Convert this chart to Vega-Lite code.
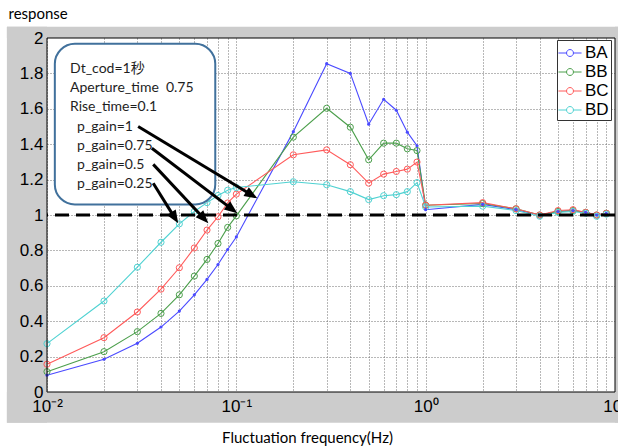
{
"$schema": "https://vega.github.io/schema/vega-lite/v6.json",
"width": 568, "height": 354,
"autosize": {"type": "none"},
"padding": {"left": 47, "top": 38, "right": 3, "bottom": 56},
"background": "white",
"config": {"view": {"stroke": null, "fill": "white"}},
"datasets": {"pts": [
{"f":0.01,"s":"BA","r":0.095},{"f":0.02,"s":"BA","r":0.185},{"f":0.03,"s":"BA","r":0.275},{"f":0.04,"s":"BA","r":0.367},{"f":0.05,"s":"BA","r":0.457},{"f":0.06,"s":"BA","r":0.549},{"f":0.07,"s":"BA","r":0.636},{"f":0.08,"s":"BA","r":0.72},{"f":0.09,"s":"BA","r":0.805},{"f":0.1,"s":"BA","r":0.876},{"f":0.2,"s":"BA","r":1.471},{"f":0.3,"s":"BA","r":1.855},{"f":0.4,"s":"BA","r":1.80},{"f":0.5,"s":"BA","r":1.513},{"f":0.6,"s":"BA","r":1.654},{"f":0.7,"s":"BA","r":1.592},{"f":0.8,"s":"BA","r":1.468},{"f":0.9,"s":"BA","r":1.391},{"f":1,"s":"BA","r":1.03},{"f":2,"s":"BA","r":1.06},{"f":3,"s":"BA","r":1.03},{"f":4,"s":"BA","r":1.0},{"f":5,"s":"BA","r":1.02},{"f":6,"s":"BA","r":1.025},{"f":7,"s":"BA","r":1.015},{"f":8,"s":"BA","r":1.0},{"f":9,"s":"BA","r":1.01},
{"f":0.01,"s":"BB","r":0.115},{"f":0.02,"s":"BB","r":0.228},{"f":0.03,"s":"BB","r":0.341},{"f":0.04,"s":"BB","r":0.444},{"f":0.05,"s":"BB","r":0.549},{"f":0.06,"s":"BB","r":0.655},{"f":0.07,"s":"BB","r":0.749},{"f":0.08,"s":"BB","r":0.839},{"f":0.09,"s":"BB","r":0.93},{"f":0.1,"s":"BB","r":0.995},{"f":0.2,"s":"BB","r":1.44},{"f":0.3,"s":"BB","r":1.603},{"f":0.4,"s":"BB","r":1.496},{"f":0.5,"s":"BB","r":1.312},{"f":0.6,"s":"BB","r":1.406},{"f":0.7,"s":"BB","r":1.406},{"f":0.8,"s":"BB","r":1.374},{"f":0.9,"s":"BB","r":1.364},{"f":1,"s":"BB","r":1.055},{"f":2,"s":"BB","r":1.065},{"f":3,"s":"BB","r":1.035},{"f":4,"s":"BB","r":1.0},{"f":5,"s":"BB","r":1.02},{"f":6,"s":"BB","r":1.025},{"f":7,"s":"BB","r":1.015},{"f":8,"s":"BB","r":1.0},{"f":9,"s":"BB","r":1.01},
{"f":0.01,"s":"BC","r":0.157},{"f":0.02,"s":"BC","r":0.307},{"f":0.03,"s":"BC","r":0.452},{"f":0.04,"s":"BC","r":0.581},{"f":0.05,"s":"BC","r":0.702},{"f":0.06,"s":"BC","r":0.814},{"f":0.07,"s":"BC","r":0.915},{"f":0.08,"s":"BC","r":0.99},{"f":0.09,"s":"BC","r":1.068},{"f":0.1,"s":"BC","r":1.118},{"f":0.2,"s":"BC","r":1.34},{"f":0.3,"s":"BC","r":1.368},{"f":0.4,"s":"BC","r":1.284},{"f":0.5,"s":"BC","r":1.18},{"f":0.6,"s":"BC","r":1.231},{"f":0.7,"s":"BC","r":1.246},{"f":0.8,"s":"BC","r":1.259},{"f":0.9,"s":"BC","r":1.299},{"f":1,"s":"BC","r":1.055},{"f":2,"s":"BC","r":1.07},{"f":3,"s":"BC","r":1.035},{"f":4,"s":"BC","r":1.0},{"f":5,"s":"BC","r":1.025},{"f":6,"s":"BC","r":1.03},{"f":7,"s":"BC","r":1.015},{"f":8,"s":"BC","r":1.0},{"f":9,"s":"BC","r":1.01},
{"f":0.01,"s":"BD","r":0.273},{"f":0.02,"s":"BD","r":0.514},{"f":0.03,"s":"BD","r":0.705},{"f":0.04,"s":"BD","r":0.846},{"f":0.05,"s":"BD","r":0.95},{"f":0.06,"s":"BD","r":1.02},{"f":0.07,"s":"BD","r":1.07},{"f":0.08,"s":"BD","r":1.11},{"f":0.09,"s":"BD","r":1.14},{"f":0.1,"s":"BD","r":1.155},{"f":0.2,"s":"BD","r":1.188},{"f":0.3,"s":"BD","r":1.171},{"f":0.4,"s":"BD","r":1.132},{"f":0.5,"s":"BD","r":1.087},{"f":0.6,"s":"BD","r":1.109},{"f":0.7,"s":"BD","r":1.115},{"f":0.8,"s":"BD","r":1.132},{"f":0.9,"s":"BD","r":1.183},{"f":1,"s":"BD","r":1.045},{"f":2,"s":"BD","r":1.05},{"f":3,"s":"BD","r":1.025},{"f":4,"s":"BD","r":0.993},{"f":5,"s":"BD","r":1.015},{"f":6,"s":"BD","r":1.02},{"f":7,"s":"BD","r":1.01},{"f":8,"s":"BD","r":0.993},{"f":9,"s":"BD","r":1.005}
]},
"data": {"name": "pts"},
"resolve": {"axis": {"x": "independent", "y": "independent"}},
"layer": [
{"data": {"values": [{}]}, "mark": {"type": "rect", "fill": "#cccccc"},
 "encoding": {
  "x": {"datum": 0.00614, "type": "quantitative", "scale": {"type": "log", "domain": [0.01, 10], "nice": false},
   "axis": {"orient": "bottom", "grid": false, "domain": false, "ticks": false, "values": [0.01, 0.1, 1, 10],
    "labelExpr": "datum.value < 0.05 ? '10⁻²' : datum.value < 0.5 ? '10⁻¹' : datum.value < 5 ? '10⁰' : '10¹'",
    "labelFont": "Liberation Sans", "labelFontSize": 17, "labelColor": "black", "labelPadding": 6, "labelBaseline": "top",
    "labelFlush": false, "labelOverlap": false, "labelBound": false,
    "title": "Fluctuation frequency(Hz)", "titleFont": "Lato", "titleFontSize": 15, "titleFontWeight": "normal", "titleColor": "black",
    "titleX": 260, "titleY": 45, "titleAlign": "center", "titleBaseline": "middle", "zindex": 1}},
  "x2": {"datum": 0.01},
  "y": {"datum": -0.1735, "type": "quantitative", "scale": {"domain": [0, 2], "nice": false, "zero": false},
   "axis": {"orient": "left", "grid": false, "domain": false, "ticks": false, "values": [0, 0.2, 0.4, 0.6, 0.8, 1, 1.2, 1.4, 1.6, 1.8, 2],
    "format": "~g", "labelFont": "Liberation Sans", "labelFontSize": 17, "labelColor": "black", "labelPadding": 4,
    "labelFlush": false, "labelOverlap": false, "labelBaseline": "middle",
    "title": "response", "titleAngle": 0, "titleX": -39, "titleY": -25, "titleAlign": "left", "titleBaseline": "middle",
    "titleFont": "Lato", "titleFontSize": 15, "titleFontWeight": "normal", "titleColor": "black", "zindex": 1}},
  "y2": {"datum": 2.063}
 }},
{"data": {"values": [{}]}, "mark": {"type": "rect", "fill": "#cccccc"},
 "encoding": {"x": {"datum": 10, "type": "quantitative", "axis": null}, "x2": {"datum": 10.6}, "y": {"datum": -0.1735, "type": "quantitative", "axis": null}, "y2": {"datum": 2.063}}},
{"data": {"values": [{}]}, "mark": {"type": "rect", "fill": "#cccccc"},
 "encoding": {"x": {"datum": 0.00614, "type": "quantitative", "axis": null}, "x2": {"datum": 10.6}, "y": {"datum": 2, "type": "quantitative", "axis": null}, "y2": {"datum": 2.063}}},
{"data": {"values": [{}]}, "mark": {"type": "rect", "fill": "#cccccc"},
 "encoding": {"x": {"datum": 0.00614, "type": "quantitative", "axis": null}, "x2": {"datum": 10.6}, "y": {"datum": -0.1735, "type": "quantitative", "axis": null}, "y2": {"datum": 0}}},
{"mark": {"type": "line", "strokeWidth": 1.1},
 "encoding": {
  "x": {"field": "f", "type": "quantitative", "scale": {"type": "log", "domain": [0.01, 10], "nice": false},
   "axis": {"orient": "bottom", "grid": true, "domain": false, "ticks": false, "labels": false, "title": null,
    "values": [0.01,0.02,0.03,0.04,0.05,0.06,0.07,0.08,0.09,0.1,0.2,0.3,0.4,0.5,0.6,0.7,0.8,0.9,1,2,3,4,5,6,7,8,9,10],
    "gridColor": "#707070", "gridDash": [1, 2], "gridWidth": 1, "zindex": 0}},
  "y": {"field": "r", "type": "quantitative", "scale": {"domain": [0, 2], "nice": false, "zero": false},
   "axis": {"orient": "left", "grid": true, "domain": false, "ticks": false, "labels": false, "title": null,
    "values": [0.2, 0.4, 0.6, 0.8, 1, 1.2, 1.4, 1.6, 1.8],
    "gridColor": "#707070", "gridDash": [1, 2], "gridWidth": 1, "zindex": 0}},
  "color": {"field": "s", "type": "nominal",
   "scale": {"domain": ["BA", "BB", "BC", "BD"], "range": ["#4a4aff", "#4c9f4c", "#ff5a5a", "#4fd2d2"]},
   "legend": {"orient": "none", "legendX": 510, "legendY": 2, "title": null, "fillColor": "white", "strokeColor": "#333333",
    "padding": 2, "symbolType": "M-1.1,0H-0.33A0.33,0.33 0 1,1 0.33,0A0.33,0.33 0 1,1 -0.33,0M0.33,0H1.1",
    "symbolSize": 441, "symbolStrokeWidth": 1, "symbolFillColor": "transparent", "labelFont": "Liberation Sans", "labelFontSize": 17, "labelColor": "black",
    "labelOffset": 4, "rowPadding": 0, "zindex": 1,
    "encode": {"symbols": {"update": {"fill": {"value": "transparent"}, "fillOpacity": {"value": 0}}}}}}
 }},
{"transform": [{"filter": "datum.s != 'BA'"}],
 "mark": {"type": "point", "filled": false, "size": 38, "strokeWidth": 1, "opacity": 1},
 "encoding": {"x": {"field": "f", "type": "quantitative", "axis": null}, "y": {"field": "r", "type": "quantitative", "axis": null},
  "color": {"field": "s", "type": "nominal", "legend": null}}},
{"transform": [{"filter": "datum.s == 'BA'"}],
 "mark": {"type": "point", "filled": true, "shape": "circle", "size": 10, "opacity": 1},
 "encoding": {"x": {"field": "f", "type": "quantitative", "axis": null}, "y": {"field": "r", "type": "quantitative", "axis": null},
  "color": {"field": "s", "type": "nominal", "legend": null}}},
{"data": {"values": [{}]}, "mark": {"type": "rule", "color": "black", "strokeWidth": 3, "strokeDash": [14, 7]},
 "encoding": {"y": {"datum": 1, "type": "quantitative", "axis": null}}},
{"data": {"values": [{}]}, "mark": {"type": "rect", "cornerRadius": 20, "fill": "white", "stroke": "#41719c", "strokeWidth": 2},
 "encoding": {"x": {"datum": 0.0110, "type": "quantitative", "axis": null}, "x2": {"datum": 0.0774}, "y": {"datum": 1.060, "type": "quantitative", "axis": null}, "y2": {"datum": 1.967}}},
{"data": {"values": [{}]}, "mark": {"type": "text", "align": "left", "baseline": "alphabetic", "font": "Lato, Noto Sans CJK JP", "fontSize": 14, "lineHeight": 18.8, "color": "#1e1e1e",
  "text": ["Dt_cod=1秒", "Aperture_time\u00a0 0.75", "Rise_time=0.1"]},
 "encoding": {"x": {"datum": 0.01323, "type": "quantitative", "axis": null}, "y": {"datum": 1.80, "type": "quantitative", "axis": null}}},
{"data": {"values": [{}]}, "mark": {"type": "text", "align": "left", "baseline": "alphabetic", "font": "Lato", "fontSize": 14, "lineHeight": 18.8, "color": "#1e1e1e",
  "text": ["p_gain=1", "p_gain=0.75", "p_gain=0.5", "p_gain=0.25"]},
 "encoding": {"x": {"datum": 0.01441, "type": "quantitative", "axis": null}, "y": {"datum": 1.472, "type": "quantitative", "axis": null}}},
{"data": {"values": [{}]}, "mark": {"type": "rule", "color": "black", "strokeWidth": 3},
 "encoding": {"x": {"datum": 0.0303, "type": "quantitative", "axis": null}, "y": {"datum": 1.500, "type": "quantitative", "axis": null}, "x2": {"datum": 0.1206}, "y2": {"datum": 1.113}}},
{"data": {"values": [{}]}, "mark": {"type": "rule", "color": "black", "strokeWidth": 3},
 "encoding": {"x": {"datum": 0.0358, "type": "quantitative", "axis": null}, "y": {"datum": 1.377, "type": "quantitative", "axis": null}, "x2": {"datum": 0.0951}, "y2": {"datum": 1.032}}},
{"data": {"values": [{}]}, "mark": {"type": "rule", "color": "black", "strokeWidth": 3},
 "encoding": {"x": {"datum": 0.0364, "type": "quantitative", "axis": null}, "y": {"datum": 1.286, "type": "quantitative", "axis": null}, "x2": {"datum": 0.0674}, "y2": {"datum": 0.980}}},
{"data": {"values": [{}]}, "mark": {"type": "rule", "color": "black", "strokeWidth": 3},
 "encoding": {"x": {"datum": 0.0364, "type": "quantitative", "axis": null}, "y": {"datum": 1.179, "type": "quantitative", "axis": null}, "x2": {"datum": 0.0473}, "y2": {"datum": 0.984}}},
{"data": {"values": [{}]}, "mark": {"type": "point", "shape": "M1,0L-1,-0.8L-1,0.8Z", "size": 169, "filled": true, "color": "black", "opacity": 1, "angle": 31},
 "encoding": {"x": {"datum": 0.1206, "type": "quantitative", "axis": null}, "y": {"datum": 1.113, "type": "quantitative", "axis": null}}},
{"data": {"values": [{}]}, "mark": {"type": "point", "shape": "M1,0L-1,-0.8L-1,0.8Z", "size": 169, "filled": true, "color": "black", "opacity": 1, "angle": 37},
 "encoding": {"x": {"datum": 0.0951, "type": "quantitative", "axis": null}, "y": {"datum": 1.032, "type": "quantitative", "axis": null}}},
{"data": {"values": [{}]}, "mark": {"type": "point", "shape": "M1,0L-1,-0.8L-1,0.8Z", "size": 169, "filled": true, "color": "black", "opacity": 1, "angle": 47},
 "encoding": {"x": {"datum": 0.0674, "type": "quantitative", "axis": null}, "y": {"datum": 0.980, "type": "quantitative", "axis": null}}},
{"data": {"values": [{}]}, "mark": {"type": "point", "shape": "M1,0L-1,-0.8L-1,0.8Z", "size": 169, "filled": true, "color": "black", "opacity": 1, "angle": 58},
 "encoding": {"x": {"datum": 0.0473, "type": "quantitative", "axis": null}, "y": {"datum": 0.984, "type": "quantitative", "axis": null}}},
{"data": {"values": [{}]}, "mark": {"type": "rect", "filled": false, "stroke": "black", "strokeWidth": 1},
 "encoding": {"x": {"datum": 0.01, "type": "quantitative", "axis": null}, "x2": {"datum": 10}, "y": {"datum": 0, "type": "quantitative", "axis": null}, "y2": {"datum": 2}}}
]
}
